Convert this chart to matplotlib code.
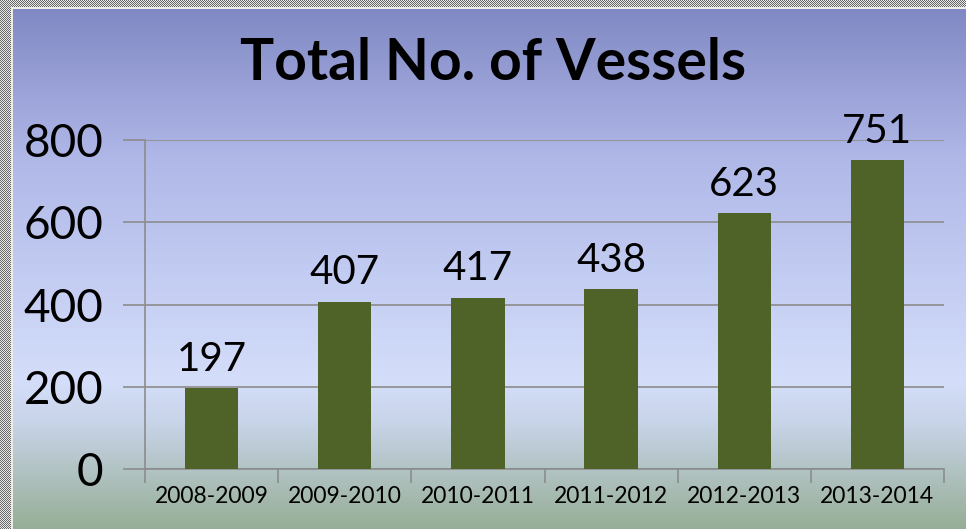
import matplotlib
matplotlib.use('Agg')
import matplotlib.pyplot as plt
import numpy as np

# data
seasons = ['2008-2009', '2009-2010', '2010-2011', '2011-2012', '2012-2013', '2013-2014']
vessels = [197, 407, 417, 438, 623, 751]
y_ticks = [0, 200, 400, 600, 800]
title = 'Total No. of Vessels'

W, H = 966, 529
plt.rcParams['font.family'] = ['Lato', 'DejaVu Sans']

fig = plt.figure(figsize=(W / 100, H / 100), dpi=100)

# background: vertical gradient blue -> pale blue -> grey green, checkered frame on left/top
stops_y = np.array([0.0, 0.30, 0.72, 0.80, 1.0])
stops_c = np.array([[126, 134, 194],
                    [176, 184, 232],
                    [212, 222, 250],
                    [200, 212, 232],
                    [150, 174, 150]]) / 255.0
yy = np.linspace(0, 1, H)
grad = np.stack([np.interp(yy, stops_y, stops_c[:, k]) for k in range(3)], axis=1)
bg = np.repeat(grad[:, None, :], W, axis=1)
ii, jj = np.mgrid[0:H, 0:W]
checker = np.where((ii + jj) % 2 == 0, 0.40, 0.92)
border = (jj < 11) | (ii < 7)
for k in range(3):
    bg[..., k] = np.where(border, checker, bg[..., k])
edge = ((jj == 11) | (jj == 12)) & (ii >= 7) | ((ii == 7) | (ii == 8)) & (jj >= 11)
bg[edge] = [0.93, 0.93, 0.90]

bg_ax = fig.add_axes([0, 0, 1, 1], zorder=-1)
bg_ax.imshow(bg, aspect='auto', interpolation='nearest')
bg_ax.axis('off')

# plot area
left, right, top, bottom = 145, 944, 140, 469
ax = fig.add_axes([left / W, 1 - bottom / H, (right - left) / W, (bottom - top) / H])
ax.patch.set_alpha(0)

x = np.arange(len(seasons))
ax.bar(x, vessels, width=0.4, color='#4F6228', zorder=3)
for xi, v in zip(x, vessels):
    ax.text(xi, v + 25, str(v), ha='center', va='bottom', fontsize=29, color='black')

ax.set_xlim(-0.5, len(seasons) - 0.5)
ax.set_ylim(0, 800)
ax.set_yticks(y_ticks)
ax.set_yticklabels([str(t) for t in y_ticks], fontsize=33)
ax.yaxis.grid(True, color='#8C8C8C', linewidth=1.2, zorder=0)
ax.tick_params(axis='y', length=16, width=1.2, color='#8C8C8C', pad=14)

ax.set_xticks(x)
ax.set_xticklabels(seasons, fontsize=16.5)
ax.set_xticks(np.arange(-0.5, len(seasons)), minor=True)
ax.tick_params(axis='x', which='major', length=0, pad=12)
ax.tick_params(axis='x', which='minor', length=10, width=1.2, color='#8C8C8C')

for side in ['top', 'right']:
    ax.spines[side].set_visible(False)
for side in ['left', 'bottom']:
    ax.spines[side].set_color('#8C8C8C')
    ax.spines[side].set_linewidth(1.2)

fig.text(493 / W, 1 - 64 / H, title, ha='center', va='center',
         fontsize=41, fontweight='bold', color='black')

fig.savefig('out.png', dpi=100)
